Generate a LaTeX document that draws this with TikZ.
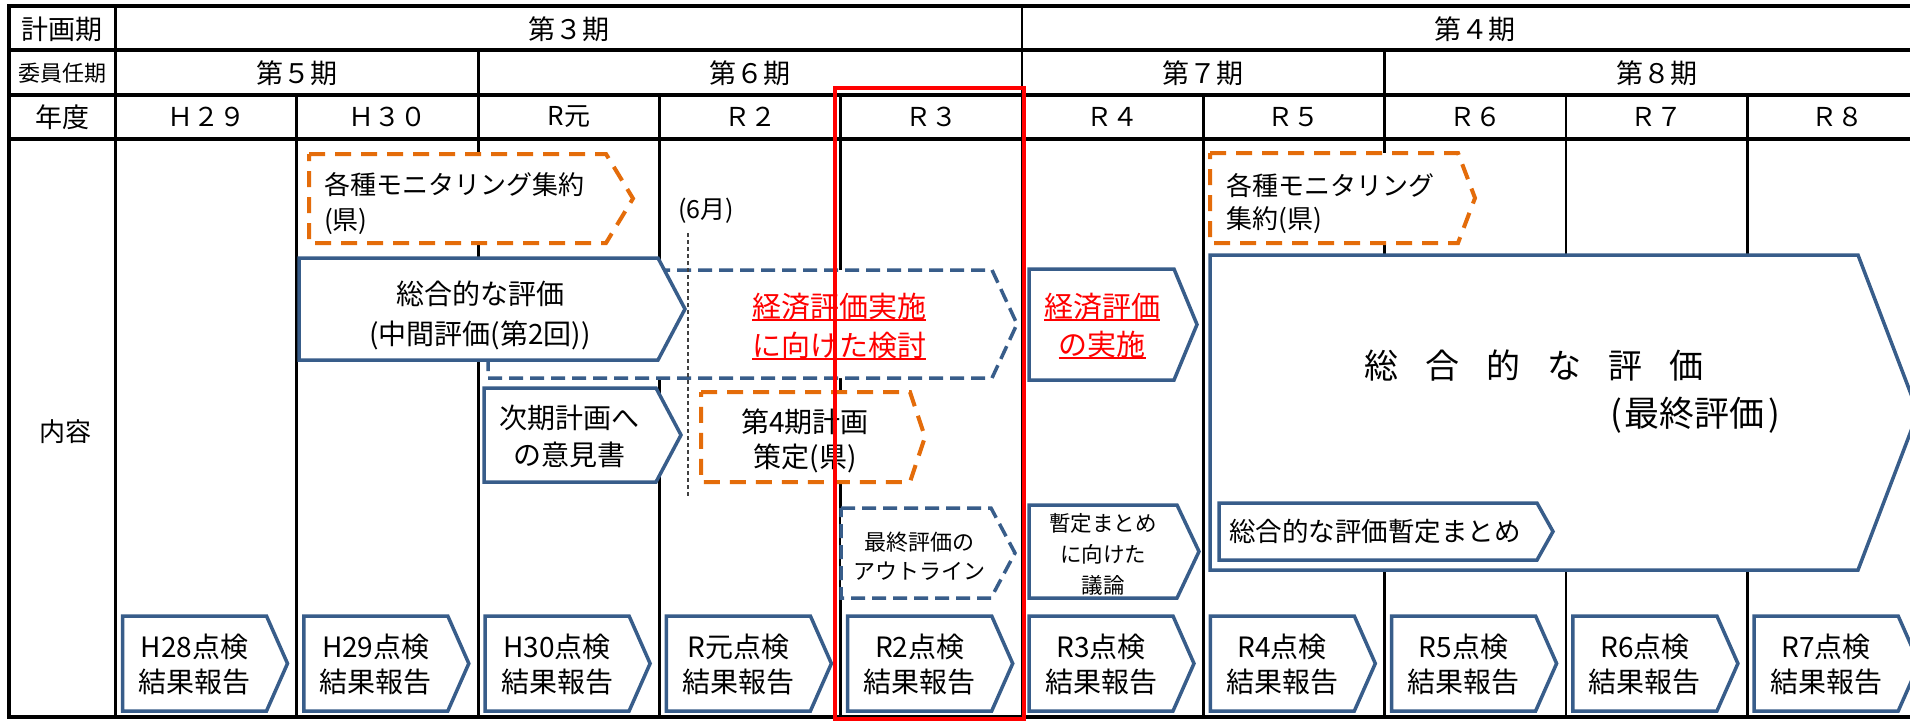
\documentclass[tikz,border=0pt]{standalone}
\usepackage{fontspec}
\setmainfont{Noto Sans CJK JP}
\definecolor{bl}{HTML}{385D8A}
\definecolor{og}{HTML}{E46C0A}
\newcommand\fs[2]{\fontsize{#1}{#2}\selectfont}
\newsavebox\ulbox
\newcommand\myul[1]{\sbox\ulbox{#1}\rlap{\rule[-3pt]{\wd\ulbox}{2pt}}\usebox\ulbox}
\newcommand\pent[6]{\path[#1] (#2,#3) -- (#4,#3) -- (#5,{(#3+#6)/2}) -- (#4,#6) -- (#2,#6) -- cycle;}
\begin{document}
\begin{tikzpicture}[x=1pt,y=-1pt,
  gridline/.style={line width=3.5pt, black},
  gridthin/.style={line width=2.8pt, black},
  bsolid/.style={draw=bl, line width=3.5pt, fill=white, line join=miter},
  bdash/.style={draw=bl, line width=3.5pt, fill=white, dash pattern=on 14pt off 7pt},
  odash/.style={draw=og, line width=4pt, fill=white, dash pattern=on 16pt off 10pt},
  t/.style={inner sep=0pt, align=center},
]
\useasboundingbox (0,0) rectangle (1910,720);
\fill[white] (0,0) rectangle (1910,720);
\begin{scope}
\clip (0,0) rectangle (1910,720);
% grid
\draw[gridthin] (1022,6) -- (1022,717);
\draw[gridthin] (478.1,50) -- (478.1,717);
\draw[gridthin] (1384.6,50) -- (1384.6,717);
\foreach \X in {296.8,659.4,840.7,1203.3,1565.9,1747.2}
  \draw[gridthin] (\X,95) -- (\X,717);
\draw[gridline] (1930,6) -- (9,6) -- (9,717) -- (1930,717);
\draw[gridline] (9,50) -- (1930,50);
\draw[gridline] (9,95) -- (1930,95);
\draw[gridline] (9,139) -- (1930,139);
\draw[gridline] (115.5,6) -- (115.5,717);
% header labels
\node[t, font=\fs{27}{30}] (lab1) at (62,29) {計画期};
\node[t, font=\fs{22}{26}] (lab2) at (62,73) {委員任期};
\node[t, font=\fs{27}{30}] (lab3) at (62,117) {年度};
\node[t, font=\fs{26}{30}] (lab4) at (65,432) {内容};
\node[t, font=\fs{27}{30}] (p3) at (569,29) {第３期};
\node[t, font=\fs{27}{30}] (p4) at (1475,29) {第４期};
\node[t, font=\fs{27}{30}] (c5) at (297,73) {第５期};
\node[t, font=\fs{27}{30}] (c6) at (750,73) {第６期};
\node[t, font=\fs{27}{30}] (c7) at (1203,73) {第７期};
\node[t, font=\fs{27}{30}] (c8) at (1657,73) {第８期};
\foreach \i/\lab in {0/Ｈ２９,1/Ｈ３０,2/R元,3/Ｒ２,4/Ｒ３,5/Ｒ４,6/Ｒ５,7/Ｒ６,8/Ｒ７,9/Ｒ８}
  \node[t, font=\fs{26}{30}] (yr\i) at ({115.5+181.3*\i+90.65},117) {\lab};
% orange monitoring boxes
\pent{odash}{309}{154}{606}{633}{243}
\node[t, anchor=west, align=left, font=\fs{26}{35}] (mon1) at (324,203.5) {各種モニタリング集約\\(県)};
\pent{odash}{1210}{153}{1458}{1475}{243}
\node[t, anchor=west, align=left, font=\fs{26}{33}] (mon2) at (1226,204) {各種モニタリング\\集約(県)};
% economic evaluation study (dashed)
\pent{bdash}{488}{270}{992}{1017}{378}
\node[t, text=red, font=\fs{29}{39}] (eco1) at (839,326.5) {\myul{経済評価実施}\\\myul{に向けた検討}};
% mid-term evaluation
\pent{bsolid}{299}{258}{658}{685}{360}
\node[t, font=\fs{28}{40}] (mid) at (480,315) {総合的な評価\\(中間評価(第2回))};
% opinion
\pent{bsolid}{484}{388}{656}{681}{482}
\node[t, font=\fs{28}{37}] (opin) at (569,436.5) {次期計画へ\\の意見書};
% 4th plan
\pent{odash}{701}{392}{910}{925}{482}
\node[t, font=\fs{28}{35}] (plan4) at (805,440.5) {第4期計画\\策定(県)};
% outline
\pent{bdash}{841}{508}{991}{1015}{598}
\node[t, font=\fs{22}{29}] (outl) at (919,556) {最終評価の\\アウトライン};
% R4 boxes
\pent{bsolid}{1029}{269}{1174}{1197}{380}
\node[t, text=red, font=\fs{29}{38}] (eco2) at (1102,326) {\myul{経済評価}\\\myul{の実施}};
\pent{bsolid}{1029}{505}{1177}{1199}{598}
\node[t, font=\fs{21.5}{31}] (disc) at (1103,554) {暫定まとめ\\に向けた\\議論};
% final evaluation
\pent{bsolid}{1210}{255}{1858}{1918}{570}
\node[t, font=\fs{34}{40}] (fin1) at (1534,366) {総\hspace{27pt}合\hspace{27pt}的\hspace{27pt}な\hspace{27pt}評\hspace{27pt}価};
\node[t, font=\fs{35}{40}] (fin2) at (1695,415) {(\hspace{3pt}最終評価\hspace{3pt})};
\pent{bsolid}{1219}{503}{1537}{1553}{560}
\node[t, anchor=west, font=\fs{26.5}{30}] (tent) at (1229,531.5) {総合的な評価暫定まとめ};
% bottom row reports
\foreach \i/\lab in {0/H28,1/H29,2/H30,3/R元,4/R2,5/R3,6/R4,7/R5,8/R6,9/R7}{
  \pgfmathsetmacro\xl{115.5+181.3*\i}
  \pent{bsolid}{\xl+7}{616}{\xl+151}{\xl+172}{711}
  \node[t, font=\fs{28}{35}] (rep\i) at (\xl+79,664.5) {\lab 点検\\結果報告};
}
% June marker
\coordinate (d1) at (688,233);
\coordinate (d2) at (688,497);
\draw[line width=1.2pt, black!75, dash pattern=on 4pt off 3pt] (d1) -- (d2);
\node[t, font=\fs{25}{30}] (june) at (706,211) {(6月)};
% red highlight
\draw[red, line width=4.5pt] (835,88) rectangle (1024,719);
\end{scope}
\end{tikzpicture}
\end{document}
